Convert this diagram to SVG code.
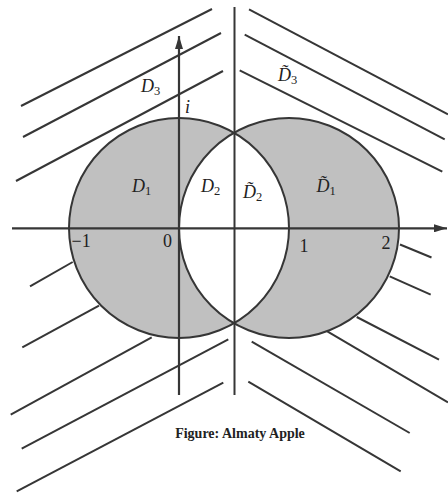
<svg xmlns="http://www.w3.org/2000/svg" width="448" height="493" viewBox="0 0 448 493">
<style>
.ln{stroke:#363636;stroke-width:2;fill:none;stroke-linecap:butt}
.ax{stroke:#363636;stroke-width:2.2;fill:none}
.sh{fill:#c0c0c0;stroke:none}
.lb{font-family:"Liberation Serif","Times New Roman",serif;font-style:italic;font-size:18px;fill:#222}
.nm{font-family:"Liberation Serif","Times New Roman",serif;font-size:18px;fill:#222}
.sb{font-size:12.5px;font-style:normal}
.cap{font-family:"Liberation Serif","Times New Roman",serif;font-weight:bold;font-size:14px;fill:#222}
</style>
<defs>
<marker id="arr" viewBox="0 0 13 8" refX="13" refY="4" markerWidth="13" markerHeight="8" markerUnits="userSpaceOnUse" orient="auto">
<path d="M0,0 L13,4 L0,8 z" fill="#363636"/>
</marker>
</defs>
<rect width="448" height="493" fill="#fff"/>
<g id="regions">
<path class="sh" d="M234,132.74 A110,110 0 1 0 234,323.26 A110,110 0 0 1 234,132.74 Z"/>
<path class="sh" d="M234,132.74 A110,110 0 1 1 234,323.26 A110,110 0 0 0 234,132.74 Z"/>
<circle class="ln" cx="179" cy="228" r="110"/>
<circle class="ln" cx="289" cy="228" r="110"/>
</g>
<g id="axes">
<line class="ax" x1="12" y1="228.3" x2="447" y2="228.3" marker-end="url(#arr)"/>
<line class="ax" x1="179" y1="395" x2="179" y2="36" marker-end="url(#arr)"/>
<line class="ln" x1="234.5" y1="7" x2="234.5" y2="395"/>
</g>
<g id="hatching">
<line class="ln" x1="21" y1="106" x2="212" y2="9"/>
<line class="ln" x1="23" y1="137" x2="221" y2="33"/>
<line class="ln" x1="16" y1="181" x2="223" y2="71"/>
<line class="ln" x1="249" y1="9.3" x2="448" y2="114.3"/>
<line class="ln" x1="244.7" y1="34.7" x2="444.7" y2="139.3"/>
<line class="ln" x1="239.7" y1="70.3" x2="442.3" y2="171.7"/>
<line class="ln" x1="30" y1="286.3" x2="72.7" y2="262"/>
<line class="ln" x1="22.3" y1="347.3" x2="99" y2="305.7"/>
<line class="ln" x1="10.7" y1="414.7" x2="151.7" y2="337.3"/>
<line class="ln" x1="21.7" y1="448.7" x2="228.3" y2="339.3"/>
<line class="ln" x1="16.7" y1="491.3" x2="223.3" y2="382.7"/>
<line class="ln" x1="400" y1="244.5" x2="431.5" y2="257.5"/>
<line class="ln" x1="389.7" y1="276.3" x2="430.7" y2="294.7"/>
<line class="ln" x1="356.7" y1="317" x2="439" y2="359.7"/>
<line class="ln" x1="327.3" y1="331.3" x2="448" y2="402.3"/>
<line class="ln" x1="251.7" y1="341.7" x2="409.7" y2="433"/>
<line class="ln" x1="248.3" y1="381.7" x2="400.7" y2="471.3"/>
</g>
<g id="labels">
<text class="lb" x="141" y="91.7">D<tspan class="sb" dy="3">3</tspan></text>
<text class="lb" x="185" y="113">i</text>
<text class="lb" x="132" y="191.7">D<tspan class="sb" dy="3">1</tspan></text>
<text class="lb" x="201" y="192.3">D<tspan class="sb" dy="3">2</tspan></text>
<text class="lb" x="243" y="198.3">D̃<tspan class="sb" dy="3">2</tspan></text>
<text class="lb" x="316.5" y="191.7">D̃<tspan class="sb" dy="3">1</tspan></text>
<text class="lb" x="278" y="81">D̃<tspan class="sb" dy="3">3</tspan></text>
<text class="nm" x="71.5" y="246.5">−1</text>
<text class="nm" x="163" y="246.5">0</text>
<text class="nm" x="299.5" y="251.5">1</text>
<text class="nm" x="381.5" y="249">2</text>
<text class="cap" x="240" y="438" text-anchor="middle">Figure: Almaty Apple</text>
</g>
</svg>
